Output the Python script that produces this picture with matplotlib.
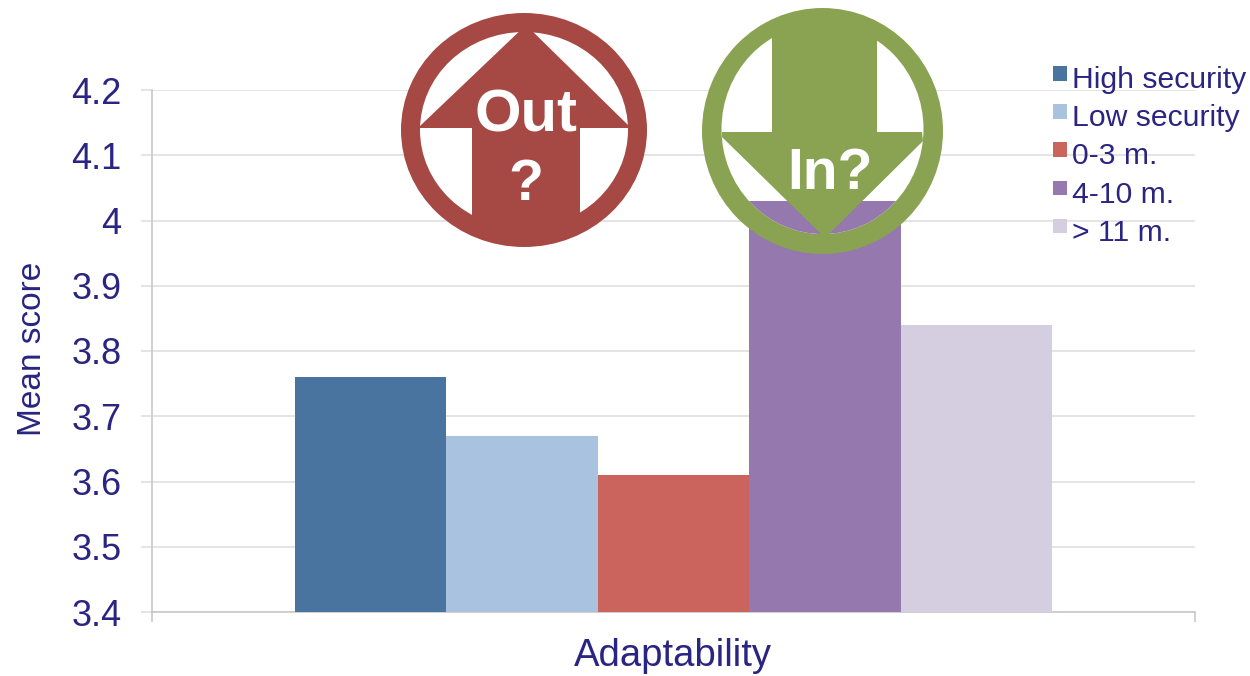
"""
plot.py
Adaptability mean scores by group, with the Out? / In? badges on top
"""

import matplotlib
matplotlib.use("Agg")
import matplotlib.pyplot as plt
from matplotlib.patches import Ellipse, Polygon, Rectangle

plt.rcParams['font.family'] = ['Liberation Sans', 'DejaVu Sans']

# data
groups = ['High security', 'Low security', '0-3 m.', '4-10 m.', '> 11 m.']
scores = [3.76, 3.67, 3.61, 4.03, 3.84]
colors = ['#4a74a0', '#a9c2e0', '#cb645d', '#9478ae', '#d5cde0']
y_ticks = [3.4, 3.5, 3.6, 3.7, 3.8, 3.9, 4.0, 4.1, 4.2]
y_labels = ['3.4', '3.5', '3.6', '3.7', '3.8', '3.9', '4', '4.1', '4.2']
category = 'Adaptability'

NAVY = '#2a2482'
GRID = '#dcdcdc'
W, H = 1250, 676

fig = plt.figure(figsize=(W / 100, H / 100), dpi=100, facecolor='white')
ax = fig.add_axes([152 / W, 1 - 612 / H, (1195 - 152) / W, (612 - 90) / H])

# bars, grouped around the single category
bar_w = 0.1452
for i, (g, s, c) in enumerate(zip(groups, scores, colors)):
    ax.bar(0.5 + (i - 2) * bar_w, s - 3.4, bar_w, bottom=3.4, color=c, label=g, zorder=3)

ax.set_xlim(0, 1)
ax.set_ylim(3.4, 4.2)
ax.set_yticks(y_ticks)
ax.set_yticklabels(y_labels, fontsize=26, color=NAVY)
ax.tick_params(axis='y', length=8, width=1.1, color=GRID, pad=14)
ax.set_xticks([0, 1])
ax.set_xticklabels(['', ''])
ax.tick_params(axis='x', length=7, width=1.1, color='#c4c4c4')
ax.grid(True, axis='y', color=GRID, linewidth=1.1, zorder=0)
ax.set_axisbelow(True)

for side in ['top', 'right']:
    ax.spines[side].set_visible(False)
ax.spines['left'].set_color('#c4c4c4')
ax.spines['bottom'].set_color('#c4c4c4')
ax.spines['left'].set_linewidth(1.1)
ax.spines['bottom'].set_linewidth(1.1)

fig.text(673 / W, 1 - 656 / H, category, fontsize=27.5, color=NAVY, ha='center', va='center')
fig.text(33 / W, 1 - 349 / H, 'Mean score', fontsize=24, color=NAVY,
         rotation=90, ha='center', va='center')

# overlay in pixel coordinates for the legend and the two badges
ov = fig.add_axes([0, 0, 1, 1], zorder=5)
ov.set_xlim(0, W)
ov.set_ylim(H, 0)
ov.axis('off')
ov.patch.set_alpha(0)

# legend: the squares sit a little higher than the text
for i, (g, c) in enumerate(zip(groups, colors)):
    row = 80 + i * 38.2
    ov.add_patch(Rectangle((1052.5, row - 14), 14.5, 14.5, color=c, lw=0))
    ov.text(1072, row, g, fontsize=21.7, color=NAVY, ha='left', va='center')


def badge(cx, cy, rx, ry, inner, color):
    # inner is (cx, cy, rx, ry) of the white disc
    ov.add_patch(Ellipse((cx, cy), rx * 2, ry * 2, color=color, lw=0))
    disc = Ellipse((inner[0], inner[1]), inner[2] * 2, inner[3] * 2, color='white', lw=0)
    ov.add_patch(disc)
    return disc


RED = '#a64944'
GREEN = '#8aa353'

# Out? badge
badge(524, 130, 123, 117, (524, 130, 104, 98), RED)
ov.add_patch(Polygon([(526, 25), (628, 125), (628, 128), (580, 128), (580, 228), (472, 228),
                      (472, 128), (420, 128), (420, 126)], closed=True, color=RED, lw=0))
ov.text(526, 116, 'Out', fontsize=43, fontweight='bold', color='white', ha='center', va='center')
ov.text(526, 185, '?', fontsize=41, fontweight='bold', color='white', ha='center', va='center')

# In? badge
in_disc = badge(822.5, 131, 120.5, 123, (822.5, 129, 101, 105), GREEN)
# the purple bar stays visible through the lower part of the white disc
bar_y = H - ax.transData.transform((0.5, scores[3]))[1]
ov.add_patch(Polygon([(749, bar_y), (900, bar_y), (900, 240), (749, 240)], closed=True,
                     color=colors[3], lw=0, clip_path=in_disc))
ov.add_patch(Polygon([(772, 22), (877, 22), (877, 132), (922, 132), (923, 141), (825, 238),
                      (722, 137), (722, 132), (772, 132)], closed=True, color=GREEN, lw=0))
ov.text(830, 174, 'In?', fontsize=41, fontweight='bold', color='white', ha='center', va='center')

fig.savefig('out.png', dpi=100)
